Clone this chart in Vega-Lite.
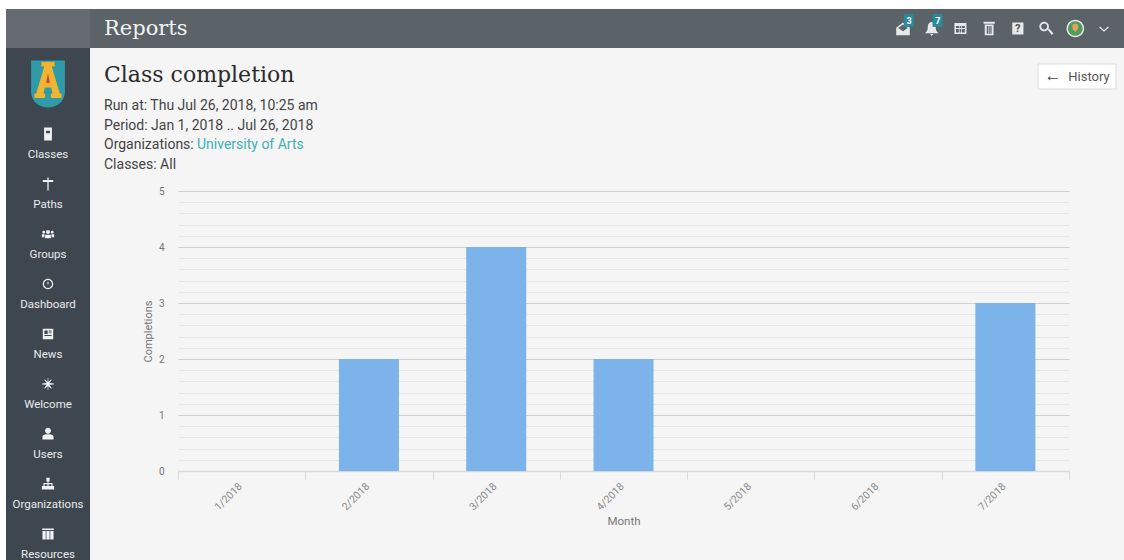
{"$schema":"https://vega.github.io/schema/vega-lite/v6.json","background":"#ffffff","padding":{"left":6,"top":9,"right":0,"bottom":0},"autosize":{"type":"pad"},"bounds":"flush","spacing":0,
"config":{"view":{"stroke":null},"concat":{"spacing":0},"font":"Roboto","text":{"font":"Roboto"}},
"datasets":{
"head":[{"page":"Reports"}],
"corner":[{"region":"corner"}],
"icons":[{"icon":"mail"},{"icon":"bell"},{"icon":"table"},{"icon":"trash"},{"icon":"help"},{"icon":"search"},{"icon":"avatar"},{"icon":"chevron"}],
"badges":[{"icon":"mail","n":"3"},{"icon":"bell","n":"7"}],
"helpmark":[{"icon":"help","glyph":"?"}],
"avatar":[{"icon":"avatar","part":"face"},{"icon":"avatar","part":"head"}],
"nav":[{"item":"Classes"},{"item":"Paths"},{"item":"Groups"},{"item":"Dashboard"},{"item":"News"},{"item":"Welcome"},{"item":"Users"},{"item":"Organizations"},{"item":"Resources"}],
"logo":[{"part":"shield"},{"part":"A"},{"part":"tip"}],
"months":[{"month":"1/2018","completions":0},{"month":"2/2018","completions":2},{"month":"3/2018","completions":4},{"month":"4/2018","completions":2},{"month":"5/2018","completions":0},{"month":"6/2018","completions":0},{"month":"7/2018","completions":3}],
"report":[{"block":"report","title":"Class completion"}],
"meta":[{"block":"report","key":"run","line":"Run at: Thu Jul 26, 2018, 10:25 am"},{"block":"report","key":"period","line":"Period: Jan 1, 2018 .. Jul 26, 2018"},{"block":"report","key":"orgs","line":"Organizations:"},{"block":"report","key":"classes","line":"Classes: All"}],
"orgs":[{"block":"report","key":"orgs","org":"University of Arts"}],
"button":[{"button":"History","arrow":"←"}]
},
"vconcat":[
{"width":1118,"height":39,"view":{"fill":"#5b6268","stroke":null},
"layer":[
{"data":{"name":"corner"},"mark":{"type":"rect","fill":"#656b70"},"encoding":{"x":{"field":"region","type":"nominal","scale":{"type":"band","paddingInner":0,"paddingOuter":0,"range":[0,84]},"axis":null}}},
{"data":{"name":"head"},"mark":{"type":"text","align":"left","font":"DejaVu Serif","fontSize":21,"color":"#f2f3f4"},"encoding":{"x":{"field":"page","type":"nominal","scale":{"type":"point","padding":0,"range":[98,98]},"axis":null},"text":{"field":"page"}}},
{"data":{"name":"icons"},"mark":{"type":"point","filled":true,"opacity":1,"size":256,"color":"#e6e8ea"},"encoding":{"x":{"field":"icon","type":"nominal","sort":null,"scale":{"type":"point","padding":0,"domain":["mail","bell","table","trash","help","search","avatar","chevron"],"range":[897,1098]},"axis":null},"shape":{"field":"icon","type":"nominal","legend":null,"scale":{"domain":["mail","bell","table","trash","help","search","avatar","chevron"],"range":[
"M-.85-.1L0-.75L.85-.1V.85H-.85ZM-.6-.05L0 .35L.6-.05L0-.5Z",
"M0-.8C.4-.8.5-.4.5-.1C.5.3.7.4.85.6H-.85C-.7.4-.5.3-.5-.1C-.5-.4-.4-.8 0-.8ZM-.2.7H.2L0 .95Z",
"M-.75-.7H.75V.7H-.75ZM-.55-.3V-.05H-.2V-.3ZM-.1-.3V-.05H.1V-.3ZM.2-.3V-.05H.55V-.3ZM-.55.05V.5H-.2V.05ZM-.1.05V.5H.1V.05ZM.2.05V.5H.55V.05Z",
"M-.7-.85H.7V-.6H-.7ZM-.55-.5H.55V.85H-.55ZM-.3-.3V.65H-.15V-.3ZM-.07-.3V.65H.07V-.3ZM.15-.3V.65H.3V-.3Z",
"M-.7-.75H.7V.75H-.7Z",
"M-.3-.85A.6.6 0 1 1-.3.35A.6.6 0 1 1-.3-.85ZM-.3-.62A.37.37 0 1 0-.3.12A.37.37 0 1 0-.3-.62ZM.15.15L.3 0L.85.6L.65.8Z",
"M0-1.1A1.1 1.1 0 1 1 0 1.1A1.1 1.1 0 1 1 0-1.1Z",
"M-.5-.25L0 .2L.5-.25L.6-.12L0 .42L-.6-.12Z"]}}}},
{"data":{"name":"helpmark"},"mark":{"type":"text","fontSize":11,"fontWeight":"bold","color":"#4a5157"},"encoding":{"x":{"field":"icon","type":"nominal","scale":{"type":"point","padding":0,"domain":["mail","bell","table","trash","help","search","avatar","chevron"],"range":[897,1098]},"axis":null},"text":{"field":"glyph"}}},
{"data":{"name":"avatar"},"mark":{"type":"point","filled":true,"opacity":1,"size":256},"encoding":{"x":{"field":"icon","type":"nominal","scale":{"type":"point","padding":0,"domain":["mail","bell","table","trash","help","search","avatar","chevron"],"range":[897,1098]},"axis":null},"shape":{"field":"part","type":"nominal","legend":null,"scale":{"domain":["face","head"],"range":["M0-.92A.92.92 0 1 1 0 .92A.92.92 0 1 1 0-.92Z","M-.38-.3C-.38-.75.38-.75.38-.3C.38.1.15.4 0 .4C-.15.4-.38.1-.38-.3Z"]}},"color":{"field":"part","type":"nominal","legend":null,"scale":{"domain":["face","head"],"range":["#4f9d5c","#e8a15c"]}}}},
{"data":{"name":"badges"},"mark":{"type":"point","filled":true,"opacity":1,"size":256,"color":"#2a8a9a","shape":"M.1-1.8H1.35V-.2H.1Z"},"encoding":{"x":{"field":"icon","type":"nominal","scale":{"type":"point","padding":0,"domain":["mail","bell","table","trash","help","search","avatar","chevron"],"range":[897,1098]},"axis":null}}},
{"data":{"name":"badges"},"mark":{"type":"text","fontSize":9,"fontWeight":"bold","color":"#ffffff","dx":6,"dy":-8},"encoding":{"x":{"field":"icon","type":"nominal","scale":{"type":"point","padding":0,"domain":["mail","bell","table","trash","help","search","avatar","chevron"],"range":[897,1098]},"axis":null},"text":{"field":"n"}}}
],
"resolve":{"scale":{"x":"independent","y":"independent","shape":"independent","color":"independent"}}},
{"hconcat":[
{"width":84,"height":512,"view":{"fill":"#3e474f","stroke":null},
"layer":[
{"data":{"name":"logo"},"mark":{"type":"point","filled":true,"opacity":1,"size":2209},"encoding":{"y":{"field":"part","type":"nominal","scale":{"type":"point","padding":0,"range":[36,36]},"axis":null},"shape":{"field":"part","type":"nominal","legend":null,"scale":{"domain":["shield","A","tip"],"range":["M-.72-1H.72V.35C.72.75.35 1 0 1C-.35 1-.72.75-.72.35Z","M-.28-.95H.28V-.75H.16L.5.4H.58V.6H.12V.4H.2L.13.15H-.13L-.2.4H-.12V.6H-.58V.4H-.5L-.16-.75H-.28Z","M0-.45L.08-.05H-.08Z"]}},"color":{"field":"part","type":"nominal","legend":null,"scale":{"domain":["shield","A","tip"],"range":["#2f9aa8","#f0b42e","#c2453d"]}}}},
{"data":{"name":"nav"},"mark":{"type":"point","filled":true,"opacity":1,"size":169,"color":"#f0f1f2"},"encoding":{"y":{"field":"item","type":"nominal","sort":null,"scale":{"type":"point","padding":0,"domain":["Classes","Paths","Groups","Dashboard","News","Welcome","Users","Organizations","Resources"],"range":[86,486]},"axis":null},"shape":{"field":"item","type":"nominal","legend":null,"scale":{"domain":["Classes","Paths","Groups","Dashboard","News","Welcome","Users","Organizations","Resources"],"range":[
"M-.6-1H.6V1H-.6ZM-.3-.5V-.1H.3V-.5Z",
"M-.1-1H.1V-.6H.8V-.3H.1V1H-.1V-.3H-.8V-.6H-.1Z",
"M0-.6A.3.3 0 1 1 0 0A.3.3 0 1 1 0-.6ZM-.45.1H.45V.65H-.45ZM-.65-.5A.22.22 0 1 1-.65-.06A.22.22 0 1 1-.65-.5ZM.65-.5A.22.22 0 1 1 .65-.06A.22.22 0 1 1 .65-.5ZM-.95.05H-.55V.5H-.95ZM.55.05H.95V.5H.55Z",
"M0-.8A.8.8 0 1 1 0 .8A.8.8 0 1 1 0-.8ZM0-.62A.62.62 0 1 0 0 .62A.62.62 0 1 0 0-.62ZM-.08-.35H.08V.08H-.08Z",
"M-.8-.8H.8V.8H-.8ZM-.55-.55V0H-.05V-.55ZM.1-.55V-.4H.55V-.55ZM.1-.25V-.1H.55V-.25ZM-.55.15V.3H.55V.15Z",
"M-.06-.9H.06L.03-.35L.5-.7L.58-.6L.2-.15L.9-.06V.06L.2.12L.58.6L.5.7L.03.35L.06.9H-.06L-.03.35L-.5.7L-.58.6L-.2.12L-.9.06V-.06L-.2-.15L-.58-.6L-.5-.7L-.03-.35Z",
"M0-.95A.45.45 0 1 1 0-.05A.45.45 0 1 1 0-.95ZM-.85.85V.5C-.85.1-.4.05 0 .05C.4.05.85.1.85.5V.85Z",
"M-.25-.95H.25V-.4H.07V-.15H.7V.3H.95V.85H.3V.3H.52V.05H.09V.3H.3V.85H-.3V.3H-.09V.05H-.52V.3H-.3V.85H-.95V.3H-.7V-.15H-.07V-.4H-.25Z",
"M-.9-.85H.9V-.6H-.9ZM-.85-.45H-.35V.85H-.85ZM-.25-.45H.25V.85H-.25ZM.35-.45H.85V.85H.35Z"]}}}},
{"data":{"name":"nav"},"mark":{"type":"text","fontSize":11.5,"color":"#e9ebed"},"encoding":{"y":{"field":"item","type":"nominal","sort":null,"scale":{"type":"point","padding":0,"domain":["Classes","Paths","Groups","Dashboard","News","Welcome","Users","Organizations","Resources"],"range":[107,507]},"axis":null},"text":{"field":"item"}}}
],
"resolve":{"scale":{"x":"independent","y":"independent","shape":"independent","color":"independent"}}},
{"width":1034,"height":512,"view":{"fill":"#f5f5f5","stroke":null},
"layer":[
{"data":{"name":"months"},"mark":{"type":"bar","size":60,"color":"#7cb3ea"},"encoding":{
"x":{"field":"month","type":"nominal","title":"Month","scale":{"type":"band","paddingInner":0,"paddingOuter":0,"range":[88,979]},"axis":{"orient":"bottom","offset":-89,"tickBand":"extent","labelAngle":-45,"labelAlign":"right","labelBaseline":"top","labelOffset":-5,"labelFont":"Roboto","labelFontSize":10.5,"labelColor":"#8a8a8a","labelPadding":2,"domainColor":"#d9d9d9","domainWidth":1.5,"tickColor":"#d9d9d9","tickSize":8,"titleFont":"Roboto","titleFontSize":11.5,"titleFontWeight":"normal","titleColor":"#777777","titlePadding":3,"grid":false}},
"y":{"field":"completions","type":"quantitative","title":"Completions","scale":{"domain":[0,5],"range":[423,143],"nice":false},"axis":{"orient":"left","offset":-88,"values":[0,0.2,0.4,0.6,0.8,1,1.2,1.4,1.6,1.8,2,2.2,2.4,2.6,2.8,3,3.2,3.4,3.6,3.8,4,4.2,4.4,4.6,4.8,5],"labelExpr":"abs(datum.value-round(datum.value))<0.01 ? round(datum.value) : ''","labelFont":"Roboto","labelFontSize":10,"labelColor":"#777777","labelPadding":14,"domain":false,"ticks":false,"grid":true,"gridColor":{"condition":{"test":"abs(datum.value-round(datum.value))<0.01","value":"#cfcfcf"},"value":"#e6e6e6"},"gridWidth":1,"titleFont":"Roboto","titleFontSize":11,"titleFontWeight":"normal","titleColor":"#777777","titlePadding":5}}}},
{"data":{"name":"report"},"mark":{"type":"text","align":"left","font":"DejaVu Serif","fontSize":22,"color":"#2b2b2b"},"encoding":{"x":{"field":"block","type":"nominal","scale":{"type":"point","padding":0,"range":[14,14]},"axis":null},"y":{"field":"block","type":"nominal","scale":{"type":"point","padding":0,"range":[27,27]},"axis":null},"text":{"field":"title"}}},
{"data":{"name":"meta"},"mark":{"type":"text","align":"left","fontSize":14,"color":"#444444"},"encoding":{"x":{"field":"block","type":"nominal","scale":{"type":"point","padding":0,"range":[14,14]},"axis":null},"y":{"field":"key","type":"nominal","sort":null,"scale":{"type":"point","padding":0,"domain":["run","period","orgs","classes"],"range":[58,117]},"axis":null},"text":{"field":"line"}}},
{"data":{"name":"orgs"},"mark":{"type":"text","align":"left","fontSize":14,"color":"#3fb0b5","dx":93},"encoding":{"x":{"field":"block","type":"nominal","scale":{"type":"point","padding":0,"range":[14,14]},"axis":null},"y":{"field":"key","type":"nominal","scale":{"type":"point","padding":0,"domain":["run","period","orgs","classes"],"range":[58,117]},"axis":null},"text":{"field":"org"}}},
{"data":{"name":"button"},"mark":{"type":"rect","fill":"#ffffff","stroke":"#dddddd","strokeWidth":1},"encoding":{"x":{"field":"button","type":"nominal","scale":{"type":"band","paddingInner":0,"paddingOuter":0,"range":[948,1026]},"axis":null},"y":{"field":"button","type":"nominal","scale":{"type":"band","paddingInner":0,"paddingOuter":0,"range":[16,41]},"axis":null}}},
{"data":{"name":"button"},"mark":{"type":"text","fontSize":13,"color":"#555555","dx":12},"encoding":{"x":{"field":"button","type":"nominal","scale":{"type":"band","paddingInner":0,"paddingOuter":0,"range":[948,1026]},"axis":null},"y":{"field":"button","type":"nominal","scale":{"type":"band","paddingInner":0,"paddingOuter":0,"range":[16,41]},"axis":null},"text":{"field":"button"}}},
{"data":{"name":"button"},"mark":{"type":"text","fontSize":17,"fontWeight":"bold","color":"#444444","dx":-24,"dy":-1},"encoding":{"x":{"field":"button","type":"nominal","scale":{"type":"band","paddingInner":0,"paddingOuter":0,"range":[948,1026]},"axis":null},"y":{"field":"button","type":"nominal","scale":{"type":"band","paddingInner":0,"paddingOuter":0,"range":[16,41]},"axis":null},"text":{"field":"arrow"}}}
],
"resolve":{"scale":{"x":"independent","y":"independent"}}}
],"spacing":0,"bounds":"flush"}
]}
